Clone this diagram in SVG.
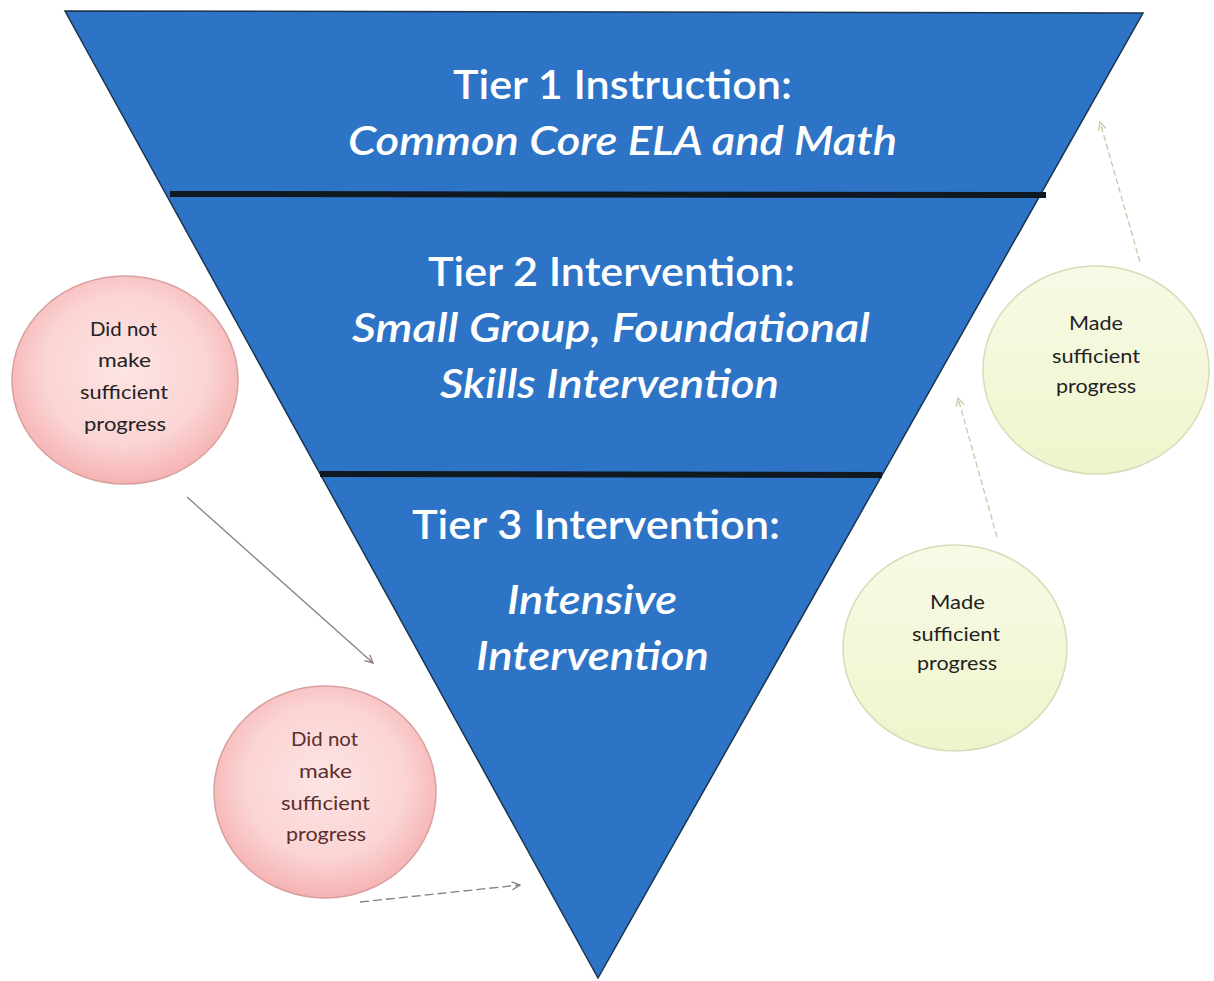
<svg xmlns="http://www.w3.org/2000/svg" width="1214" height="981" viewBox="0 0 1214 981">
<style>
.tier{font-family:Lato,"Liberation Sans",sans-serif;fill:#fff;text-anchor:middle;font-size:40px;font-weight:600}
.it{font-style:italic}
.ct{font-family:Lato,"Liberation Sans",sans-serif;font-size:20px;text-anchor:middle;fill:#222}
.ctr{fill:#5a2e2e}
.pink{fill:url(#gp);stroke:#d9a0a0;stroke-width:1.5}
.green{fill:url(#gg);stroke:#d6dcb8;stroke-width:1.5}
.div{stroke:#101820;stroke-width:6}
</style>
<defs>
<radialGradient id="gp" cx="0.5" cy="0.45" r="0.6">
<stop offset="0" stop-color="#fde4e4"/>
<stop offset="0.6" stop-color="#fbd4d4"/>
<stop offset="1" stop-color="#f4aaaa"/>
</radialGradient>
<linearGradient id="gg" x1="0" y1="0" x2="0" y2="1">
<stop offset="0" stop-color="#f8fae6"/>
<stop offset="1" stop-color="#eef5cc"/>
</linearGradient>
<marker id="ah" viewBox="0 0 10 10" refX="9" refY="5" markerWidth="10" markerHeight="10" orient="auto" markerUnits="userSpaceOnUse">
<path d="M1,1 L9,5 L1,9" fill="none" stroke="#8a7a8a" stroke-width="1.3"/>
</marker>
<marker id="ahg" viewBox="0 0 10 10" refX="9" refY="5" markerWidth="10" markerHeight="10" orient="auto" markerUnits="userSpaceOnUse">
<path d="M1,1 L9,5 L1,9" fill="none" stroke="#c8c8a8" stroke-width="1.3"/>
</marker>
</defs>
<rect width="1214" height="981" fill="#fff"/>
<g id="pyramid">
<polygon points="65,11 1143,13 598,978" fill="#2d74c6" stroke="#1a3550" stroke-width="1.5"/>
<line class="div" x1="170" y1="194" x2="1046" y2="195"/>
<line class="div" x1="320" y1="474" x2="882" y2="475"/>
</g>
<g id="tier1">
<text class="tier" x="622.5" y="99" textLength="339" lengthAdjust="spacingAndGlyphs">Tier 1 Instruction:</text>
<text class="tier it" x="622.5" y="155" textLength="549" lengthAdjust="spacingAndGlyphs">Common Core ELA and Math</text>
</g>
<g id="tier2">
<text class="tier" x="611.5" y="286" textLength="367" lengthAdjust="spacingAndGlyphs">Tier 2 Intervention:</text>
<text class="tier it" x="611" y="342" textLength="518" lengthAdjust="spacingAndGlyphs">Small Group, Foundational</text>
<text class="tier it" x="609.5" y="398" textLength="339" lengthAdjust="spacingAndGlyphs">Skills Intervention</text>
</g>
<g id="tier3">
<text class="tier" x="596" y="539" textLength="368" lengthAdjust="spacingAndGlyphs">Tier 3 Intervention:</text>
<text class="tier it" x="592" y="614" textLength="170" lengthAdjust="spacingAndGlyphs">Intensive</text>
<text class="tier it" x="592.5" y="670" textLength="233" lengthAdjust="spacingAndGlyphs">Intervention</text>
</g>
<g id="connectors">
<line x1="187" y1="497" x2="373" y2="663" stroke="#8a7a8a" stroke-width="1.3" marker-end="url(#ah)"/>
<line x1="360" y1="902" x2="520" y2="885" stroke="#8a7a8a" stroke-width="1.3" stroke-dasharray="9,4" marker-end="url(#ah)"/>
<line x1="997" y1="537" x2="958" y2="398" stroke="#c8c8a8" stroke-width="1.3" stroke-dasharray="6,3" marker-end="url(#ahg)"/>
<line x1="1140" y1="262" x2="1100" y2="122" stroke="#c8c8a8" stroke-width="1.3" stroke-dasharray="6,3" marker-end="url(#ahg)"/>
</g>
<g id="notmade1">
<ellipse class="pink" cx="125" cy="380" rx="113" ry="104"/>
<text class="ct" x="123.5" y="336" textLength="67" lengthAdjust="spacingAndGlyphs">Did not</text>
<text class="ct" x="124.5" y="367" textLength="53" lengthAdjust="spacingAndGlyphs">make</text>
<text class="ct" x="124" y="399" textLength="88" lengthAdjust="spacingAndGlyphs">sufficient</text>
<text class="ct" x="125" y="431" textLength="82" lengthAdjust="spacingAndGlyphs">progress</text>
</g>
<g id="notmade2">
<ellipse class="pink" cx="325" cy="792" rx="111" ry="106"/>
<text class="ct ctr" x="324.5" y="746" textLength="67" lengthAdjust="spacingAndGlyphs">Did not</text>
<text class="ct ctr" x="325.5" y="778" textLength="53" lengthAdjust="spacingAndGlyphs">make</text>
<text class="ct ctr" x="325.5" y="810" textLength="89" lengthAdjust="spacingAndGlyphs">sufficient</text>
<text class="ct ctr" x="326" y="841" textLength="80" lengthAdjust="spacingAndGlyphs">progress</text>
</g>
<g id="made1">
<ellipse class="green" cx="1096" cy="370" rx="113" ry="104"/>
<text class="ct" x="1096" y="330" textLength="54" lengthAdjust="spacingAndGlyphs">Made</text>
<text class="ct" x="1096" y="363" textLength="88" lengthAdjust="spacingAndGlyphs">sufficient</text>
<text class="ct" x="1096" y="393" textLength="80" lengthAdjust="spacingAndGlyphs">progress</text>
</g>
<g id="made2">
<ellipse class="green" cx="955" cy="648" rx="112" ry="103"/>
<text class="ct" x="957.5" y="609" textLength="55" lengthAdjust="spacingAndGlyphs">Made</text>
<text class="ct" x="956" y="641" textLength="88" lengthAdjust="spacingAndGlyphs">sufficient</text>
<text class="ct" x="957" y="670" textLength="80" lengthAdjust="spacingAndGlyphs">progress</text>
</g>
</svg>
